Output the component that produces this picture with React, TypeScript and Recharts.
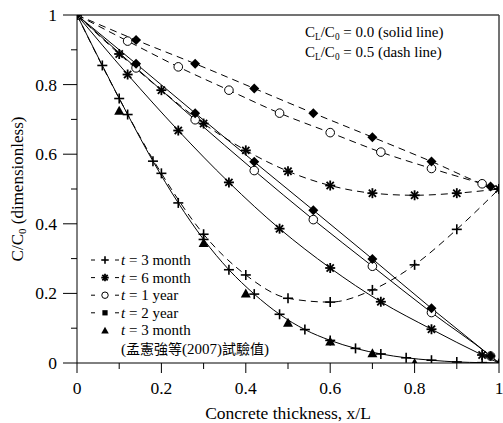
import React from 'react';
import { ComposedChart, Line, XAxis, YAxis, ReferenceLine, Legend, Label } from 'recharts';

// x positions of the markers for each model curve
const xStep06 = [0, 0.06, 0.12, 0.18, 0.24, 0.3, 0.36, 0.42, 0.48, 0.54, 0.6, 0.66, 0.72, 0.78, 0.84, 0.9, 0.96, 1.0];
const xStep10 = [0, 0.1, 0.2, 0.3, 0.4, 0.5, 0.6, 0.7, 0.8, 0.9, 1.0];
const xStep12 = [0, 0.12, 0.24, 0.36, 0.48, 0.6, 0.72, 0.84, 0.96, 1.0];
const xStep14 = [0, 0.14, 0.28, 0.42, 0.56, 0.7, 0.84, 0.98, 1.0];

// CL/C0 = 0.0 (solid)
const m3Solid = [1, 0.855, 0.714, 0.58, 0.46, 0.355, 0.268, 0.198, 0.14, 0.096, 0.065, 0.042, 0.026, 0.015, 0.008, 0.003, 0.001, 0];
const m6Solid = [1, 0.829, 0.668, 0.519, 0.386, 0.273, 0.176, 0.097, 0.023, 0];
const y1Solid = [1, 0.848, 0.699, 0.553, 0.412, 0.278, 0.145, 0.02, 0];
const y2Solid = [1, 0.86, 0.718, 0.578, 0.439, 0.299, 0.157, 0.02, 0];

// CL/C0 = 0.5 (dashed)
const m3Dash = [1, 0.76, 0.545, 0.37, 0.253, 0.186, 0.175, 0.21, 0.282, 0.384, 0.5];
const m6Dash = [1, 0.888, 0.784, 0.688, 0.611, 0.551, 0.51, 0.488, 0.482, 0.488, 0.5];
const y1Dash = [1, 0.925, 0.851, 0.784, 0.718, 0.662, 0.606, 0.559, 0.515, 0.5];
const y2Dash = [1, 0.928, 0.86, 0.789, 0.718, 0.649, 0.579, 0.507, 0.5];

// test values, t = 3 month
const xExp = [0.1, 0.3, 0.4, 0.5, 0.6, 0.7, 0.8, 1.0];
const cExp = [0.725, 0.345, 0.2, 0.116, 0.062, 0.028, 0.0, 0.0];

const xTicks = [0, 0.1, 0.2, 0.3, 0.4, 0.5, 0.6, 0.7, 0.8, 0.9, 1];
const yTicks = [0, 0.1, 0.2, 0.3, 0.4, 0.5, 0.6, 0.7, 0.8, 0.9, 1];

const FONT = '"Liberation Serif", "Times New Roman", serif';
const CJK = '"Noto Sans CJK TC", "Noto Sans CJK SC", sans-serif';

type Pt = { x: number; y: number; mark: boolean };

const toPts = (xs: number[], ys: number[], markLast = true): Pt[] =>
  xs.map((x, i) => ({ x, y: ys[i], mark: markLast || i < xs.length - 1 }));

type Shape = 'plus' | 'star' | 'circle' | 'diamond' | 'square' | 'triangle';

const Marker = ({ shape, cx, cy, s = 1 }: { shape: Shape; cx: number; cy: number; s?: number }) => {
  const r = 5 * s;
  switch (shape) {
    case 'plus':
      return (
        <g stroke="#000" strokeWidth={1.6}>
          <line x1={cx - r} y1={cy} x2={cx + r} y2={cy} />
          <line x1={cx} y1={cy - r} x2={cx} y2={cy + r} />
        </g>
      );
    case 'star':
      return (
        <g stroke="#000" strokeWidth={1.8}>
          <line x1={cx - r} y1={cy} x2={cx + r} y2={cy} />
          <line x1={cx} y1={cy - r} x2={cx} y2={cy + r} />
          <line x1={cx - r * 0.72} y1={cy - r * 0.72} x2={cx + r * 0.72} y2={cy + r * 0.72} />
          <line x1={cx - r * 0.72} y1={cy + r * 0.72} x2={cx + r * 0.72} y2={cy - r * 0.72} />
        </g>
      );
    case 'circle':
      return <circle cx={cx} cy={cy} r={4.3 * s} fill="#fff" stroke="#000" strokeWidth={1} />;
    case 'diamond':
      return <path d={`M${cx},${cy - r}L${cx + r},${cy}L${cx},${cy + r}L${cx - r},${cy}Z`} fill="#000" />;
    case 'square':
      return <rect x={cx - r * 0.7} y={cy - r * 0.7} width={r * 1.4} height={r * 1.4} fill="#000" />;
    default:
      return <path d={`M${cx},${cy - r}L${cx + r},${cy + r * 0.8}L${cx - r},${cy + r * 0.8}Z`} fill="#000" />;
  }
};

const makeDot = (shape: Shape) => (p: any) => {
  const { cx, cy, payload, index } = p;
  if (!payload || !payload.mark || cx == null || cy == null) return <g key={index} />;
  return (
    <g key={index}>
      <Marker shape={shape} cx={cx} cy={cy} />
    </g>
  );
};

const fmt = (v: number) => (v === 0 ? '0' : v === 1 ? '1' : v.toFixed(1));
const isMajor = (v: number) => Math.round(v * 10) % 2 === 0;

const XTick = (props: any) => {
  const { x, y, payload } = props;
  const major = isMajor(payload.value);
  return (
    <g>
      <line x1={x} y1={y} x2={x} y2={y + (major ? 10 : 6)} stroke="#000" />
      {major && (
        <text x={x} y={y + 31} textAnchor="middle" fontFamily={FONT} fontSize={17.5} fill="#000">
          {fmt(payload.value)}
        </text>
      )}
    </g>
  );
};

const YTick = (props: any) => {
  const { x, y, payload } = props;
  const major = isMajor(payload.value);
  return (
    <g>
      <line x1={x - (major ? 14 : 6)} y1={y} x2={x} y2={y} stroke="#000" />
      {major && (
        <text x={x - 20} y={y + 6} textAnchor="end" fontFamily={FONT} fontSize={17.5} fill="#000">
          {fmt(payload.value)}
        </text>
      )}
    </g>
  );
};

const legendRows: { shape: Shape; dashed: boolean; label: string }[] = [
  { shape: 'plus', dashed: true, label: '3 month' },
  { shape: 'star', dashed: true, label: '6 month' },
  { shape: 'circle', dashed: true, label: '1 year' },
  { shape: 'square', dashed: true, label: '2 year' },
  { shape: 'triangle', dashed: false, label: '3 month' },
];

const LegendBox = () => (
  <svg width={215} height={112} style={{ display: 'block' }}>
    {legendRows.map((r, i) => {
      const cy = 9 + i * 17.6;
      return (
        <g key={i}>
          {r.dashed && (
            <g stroke="#000" strokeWidth={1}>
              <line x1={3} y1={cy} x2={7} y2={cy} />
              <line x1={27} y1={cy} x2={31} y2={cy} />
            </g>
          )}
          <Marker shape={r.shape} cx={17} cy={cy} s={0.75} />
          <text x={33} y={cy + 5} fontFamily={FONT} fontSize={15} fill="#000">
            <tspan fontStyle="italic">t</tspan> = {r.label}
          </text>
        </g>
      );
    })}
    <text x={33} y={9 + 5 * 17.8 + 5} fontSize={15} fill="#000">
      <tspan fontFamily={FONT}>(</tspan>
      <tspan fontFamily={CJK} fontSize={14}>孟憲強等</tspan>
      <tspan fontFamily={FONT}>(2007)</tspan>
      <tspan fontFamily={CJK} fontSize={14}>試驗值</tspan>
      <tspan fontFamily={FONT}>)</tspan>
    </text>
  </svg>
);

const subStyle: React.CSSProperties = { fontSize: '0.62em', verticalAlign: '-0.3em', lineHeight: 0 };

export default function App() {
  const lineProps = { type: 'monotone' as const, dataKey: 'y', stroke: '#000', strokeWidth: 1, isAnimationActive: false, legendType: 'none' as const };
  return (
    <div style={{ position: 'fixed', left: 0, top: 0, width: 503, height: 423, background: '#fff' }}>
      <ComposedChart width={503} height={423} margin={{ top: 15, right: 4, bottom: 0, left: 0 }}>
        <XAxis
          type="number"
          dataKey="x"
          domain={[0, 1]}
          ticks={xTicks}
          tick={<XTick />}
          tickSize={0}
          tickMargin={0}
          height={60}
          stroke="#000"
          allowDataOverflow
        >
          <Label
            content={(p: any) => (
              <text x={p.viewBox.x + p.viewBox.width / 2} y={p.viewBox.y + 56} textAnchor="middle" fontFamily={FONT} fontSize={17.5} fill="#000">
                Concrete thickness, x/L
              </text>
            )}
          />
        </XAxis>
        <YAxis
          type="number"
          domain={[0, 1]}
          ticks={yTicks}
          tick={<YTick />}
          tickSize={0}
          tickMargin={0}
          width={77}
          stroke="#000"
          allowDataOverflow
        >
          <Label
            content={(p: any) => {
              const cy = p.viewBox.y + p.viewBox.height / 2;
              return (
                <text x={23} y={cy} transform={`rotate(-90 23 ${cy})`} textAnchor="middle" fontFamily={FONT} fontSize={17} fill="#000">
                  C/C<tspan fontSize={11} dy={3}>0</tspan>
                  <tspan dy={-3}> (dimensionless)</tspan>
                </text>
              );
            }}
          />
        </YAxis>
        <ReferenceLine y={1} stroke="#444" strokeWidth={1.5} />
        <ReferenceLine x={1} stroke="#444" strokeWidth={1.5} />

        <Line {...lineProps} data={toPts(xStep06, m3Solid, false)} dot={makeDot('plus')} />
        <Line {...lineProps} data={toPts(xStep12, m6Solid, false)} dot={makeDot('star')} />
        <Line {...lineProps} data={toPts(xStep14, y1Solid, false)} dot={makeDot('circle')} />
        <Line {...lineProps} data={toPts(xStep14, y2Solid, false)} dot={makeDot('diamond')} />

        <Line {...lineProps} data={toPts(xStep10, m3Dash)} strokeDasharray="7 5" dot={makeDot('plus')} />
        <Line {...lineProps} data={toPts(xStep10, m6Dash)} strokeDasharray="7 5" dot={makeDot('star')} />
        <Line {...lineProps} data={toPts(xStep12, y1Dash, false)} strokeDasharray="7 5" dot={makeDot('circle')} />
        <Line {...lineProps} data={toPts(xStep14, y2Dash, false)} strokeDasharray="7 5" dot={makeDot('diamond')} />

        <Line {...lineProps} data={toPts(xExp, cExp)} stroke="none" dot={makeDot('triangle')} />

        <Legend
          layout="vertical"
          align="center"
          verticalAlign="middle"
          content={() => <LegendBox />}
          wrapperStyle={{ left: 88, top: 251, width: 215 }}
        />
      </ComposedChart>
      <div
        style={{
          position: 'absolute',
          left: 305,
          top: 22,
          width: 190,
          textAlign: 'left',
          fontFamily: FONT,
          fontSize: 15,
          lineHeight: '20px',
          color: '#000',
        }}
      >
        <div>
          C<sub style={subStyle}>L</sub>/C<sub style={subStyle}>0</sub> = 0.0 (solid line)
        </div>
        <div>
          C<sub style={subStyle}>L</sub>/C<sub style={subStyle}>0</sub> = 0.5 (dash line)
        </div>
      </div>
    </div>
  );
}
